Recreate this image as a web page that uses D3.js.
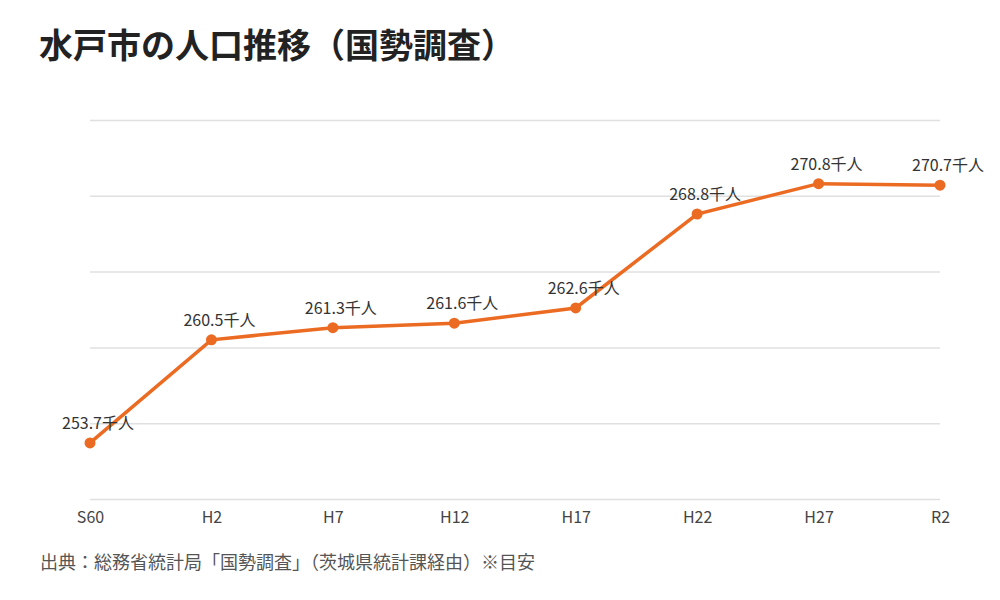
<html>
<script src='https://d3js.org/d3.v7.min.js'></script>
<style>
body { margin: 0; background: #fff; }
text { font-family: "Noto Sans CJK JP", "Noto Sans", sans-serif; }
</style>
<body>
<svg width=1000 height=600></svg>
<script>
const years = ["S60", "H2", "H7", "H12", "H17", "H22", "H27", "R2"];
const population = [253.7, 260.5, 261.3, 261.6, 262.6, 268.8, 270.8, 270.7];
const yTicks = [250, 255, 260, 265, 270, 275];

const svg = d3.select("svg");

svg.append("text")
  .attr("x", 39).attr("y", 58)
  .attr("font-size", 34).attr("font-weight", "bold").attr("fill", "#222")
  .text("水戸市の人口推移（国勢調査）");

var x = d3.scalePoint().domain(years).range([90, 940]);
var y = d3.scaleLinear().domain([250, 275]).range([499, 120]);

// gridlines
svg.append("g")
  .attr("transform", "translate(90,0)")
  .call(d3.axisLeft(y).tickValues(yTicks).tickSize(-850).tickFormat(""))
  .call(g => g.select(".domain").remove())
  .call(g => g.selectAll("line").attr("stroke", "#e0e0e0").attr("stroke-width", 1.5));

// x axis labels
svg.append("g")
  .attr("transform", "translate(0,499)")
  .call(d3.axisBottom(x).tickSize(0).tickPadding(13))
  .call(g => g.select(".domain").remove())
  .call(g => g.selectAll("text").attr("font-size", 16).attr("fill", "#444")
    .style("font-family", '"Noto Sans CJK JP", "Noto Sans", sans-serif'));

var line = d3.line().x((d, i) => x(years[i])).y(d => y(d));

svg.append("path")
  .datum(population)
  .attr("d", line)
  .attr("fill", "none")
  .attr("stroke", "#ec6b23")
  .attr("stroke-width", 3.5);

svg.append("g").selectAll("circle")
  .data(population)
  .enter().append("circle")
  .attr("cx", (d, i) => x(years[i]))
  .attr("cy", d => y(d))
  .attr("r", 5.5)
  .attr("fill", "#ec6b23");

svg.append("g").selectAll("text")
  .data(population)
  .enter().append("text")
  .attr("x", (d, i) => x(years[i]) + 8)
  .attr("y", d => y(d) - 14)
  .attr("text-anchor", "middle")
  .attr("font-size", 16).attr("fill", "#333")
  .text(d => d.toFixed(1) + "千人");

svg.append("text")
  .attr("x", 40).attr("y", 569)
  .attr("font-size", 18).attr("fill", "#555")
  .text("出典：総務省統計局「国勢調査」（茨城県統計課経由）※目安");
</script>
</body>
</html>
